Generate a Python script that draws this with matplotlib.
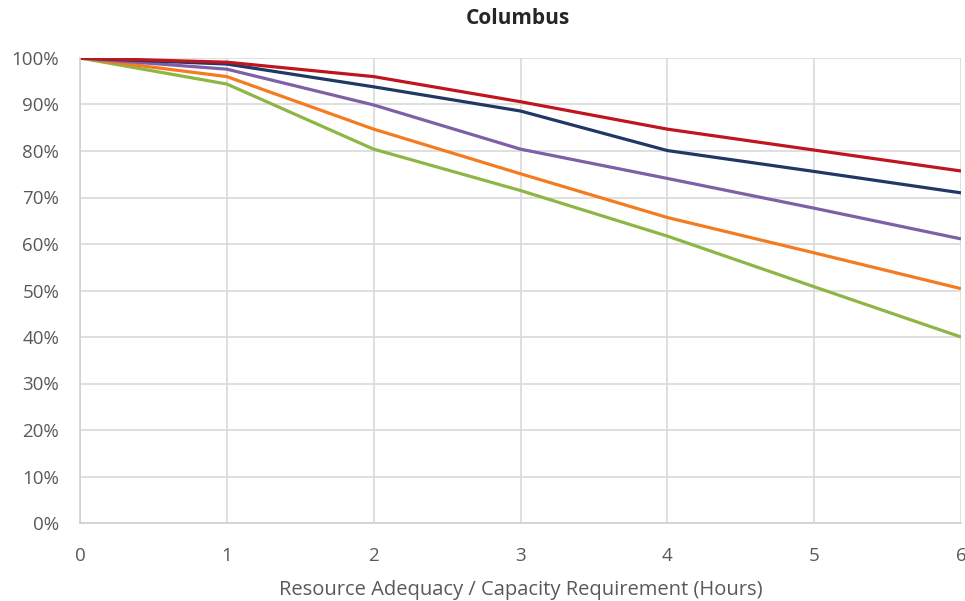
import matplotlib
matplotlib.use("Agg")
import matplotlib.pyplot as plt
from matplotlib.ticker import PercentFormatter

plt.rcParams['font.family'] = ['Open Sans', 'DejaVu Sans']

# =========================================================
# Data
# =========================================================
hours = [0, 1, 2, 3, 4, 5, 6]

red = [100, 99.1, 96.0, 90.6, 84.7, 80.2, 75.7]
navy = [100, 98.7, 93.8, 88.6, 80.1, 75.6, 71.0]
purple = [100, 97.6, 89.9, 80.4, 74.1, 67.7, 61.1]
orange = [100, 96.0, 84.7, 75.1, 65.7, 58.1, 50.4]
green = [100, 94.4, 80.4, 71.5, 61.7, 50.8, 40.0]

series = [
    (green, "#8DB645"),
    (orange, "#F47B20"),
    (purple, "#7F5FA8"),
    (navy, "#1F3864"),
    (red, "#C0141F"),
]

# =========================================================
# Plot
# =========================================================
fig = plt.figure(figsize=(9.65, 6.01), dpi=100)
ax = fig.add_axes([80 / 965, 78 / 601, 881 / 965, 465 / 601])

for vals, col in series:
    ax.plot(hours, vals, color=col, linewidth=2.3, solid_capstyle="butt")

ax.set_xlim(0, 6)
ax.set_ylim(0, 100)
ax.set_yticks(range(0, 101, 10))
ax.set_xticks(hours)
ax.yaxis.set_major_formatter(PercentFormatter(decimals=0))

ax.grid(True, color="#D9D9D9", linewidth=1.2)
ax.set_axisbelow(True)
for s in ["top", "right"]:
    ax.spines[s].set_visible(False)
ax.spines["left"].set_color("#D0D0D0")
ax.spines["bottom"].set_color("#D0D0D0")
ax.spines["left"].set_linewidth(1.2)
ax.spines["bottom"].set_linewidth(1.2)

ax.tick_params(length=0, labelsize=13.5, labelcolor="#595959")
ax.tick_params(axis="x", pad=17)
ax.tick_params(axis="y", pad=15)

ax.set_xlabel("Resource Adequacy / Capacity Requirement (Hours)",
              fontsize=14.5, color="#595959", labelpad=11)
fig.text(0.537, 0.97, "Columbus", ha="center", va="center", fontsize=15,
         fontweight="bold", color="#262626")

fig.savefig("out.png", dpi=100)
